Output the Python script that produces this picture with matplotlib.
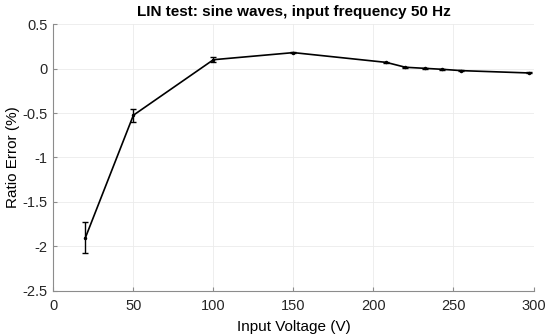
import matplotlib
matplotlib.use("Agg")
import matplotlib.pyplot as plt

plt.rcParams['font.family'] = ['Liberation Sans', 'DejaVu Sans']

voltage = [20, 50, 100, 150, 208, 220, 232, 243, 255, 297]
ratio_err = [-1.905, -0.525, 0.10, 0.18, 0.07, 0.015, 0.003, -0.008, -0.023, -0.049]
err = [0.176, 0.072, 0.03, 0.008, 0.008, 0.008, 0.006, 0.006, 0.008, 0.006]

fig = plt.figure(figsize=(5.5, 3.36), dpi=100)
ax = fig.add_axes([0.097, 0.135, 0.873, 0.793])
ax.errorbar(voltage, ratio_err, yerr=err, color='black', lw=1.2, capsize=2,
            elinewidth=1.0, marker='.', markersize=3)
ax.set_xlim(0, 300)
ax.set_ylim(-2.5, 0.5)
ax.set_xticks([0, 50, 100, 150, 200, 250, 300])
ax.set_yticks([-2.5, -2, -1.5, -1, -0.5, 0, 0.5])
ax.set_yticklabels(['-2.5', '-2', '-1.5', '-1', '-0.5', '0', '0.5'])
ax.grid(True, color='#ebebeb', lw=0.6)
ax.set_axisbelow(True)
for s in ['top', 'right']:
    ax.spines[s].set_visible(False)
for s in ['left', 'bottom']:
    ax.spines[s].set_color('#8c8c8c')
ax.tick_params(direction='in', length=3, labelsize=10.5, color='#8c8c8c', labelcolor='#262626')
ax.tick_params(axis='x', pad=6)
ax.tick_params(axis='y', pad=4)
ax.set_xlabel('Input Voltage (V)', fontsize=11, labelpad=5)
ax.set_ylabel('Ratio Error (%)', fontsize=11, labelpad=2)
ax.set_title('LIN test: sine waves, input frequency 50 Hz', fontsize=11, fontweight='bold', pad=6)
fig.savefig('out.png', dpi=100)
